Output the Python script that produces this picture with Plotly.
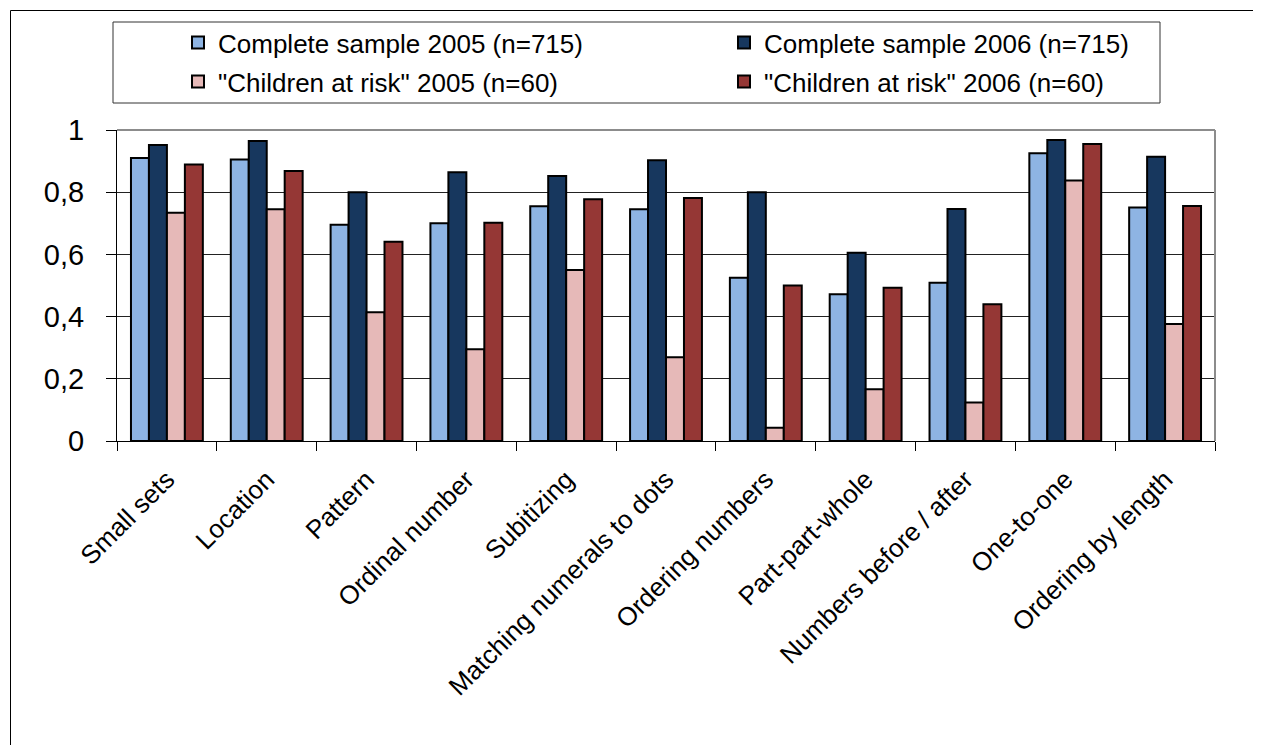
import plotly.graph_objects as go

categories = ["Small sets", "Location", "Pattern", "Ordinal number", "Subitizing",
              "Matching numerals to dots", "Ordering numbers", "Part-part-whole",
              "Numbers before / after", "One-to-one", "Ordering by length"]

series_names = ["Complete sample 2005 (n=715)", "Complete sample 2006 (n=715)",
                "\"Children at risk\" 2005 (n=60)", "\"Children at risk\" 2006 (n=60)"]

complete_2005 = [0.91, 0.905, 0.695, 0.70, 0.755, 0.745, 0.525, 0.472, 0.509, 0.925, 0.751]
complete_2006 = [0.952, 0.965, 0.80, 0.864, 0.852, 0.903, 0.80, 0.605, 0.746, 0.968, 0.914]
risk_2005 = [0.734, 0.745, 0.414, 0.295, 0.55, 0.269, 0.043, 0.166, 0.124, 0.838, 0.376]
risk_2006 = [0.889, 0.868, 0.641, 0.702, 0.777, 0.781, 0.50, 0.493, 0.44, 0.955, 0.756]

colors = ["#8EB4E3", "#17375E", "#E6B9B8", "#953735"]
values = [complete_2005, complete_2006, risk_2005, risk_2006]
legend_ids = ["legend", "legend2", "legend3", "legend4"]

OFF = 8  # page body margin
W, H = 1261 - 2 * OFF, 753 - 2 * OFF
# plot area bounds in screen pixels
SL, SR, ST, SB = 117, 1215, 130, 441
L, R, T, B = SL - OFF, SR - OFF, ST - OFF, SB - OFF

fig = go.Figure()
for name, vals, col, lg in zip(series_names, values, colors, legend_ids):
    fig.add_trace(go.Bar(name=name, x=categories, y=vals, legend=lg,
                         marker=dict(color=col, line=dict(color="black", width=2))))

def px_x(sx):
    return (sx - OFF - L) / (R - L)

def px_y(sy):
    return (B - (sy - OFF)) / (B - T)

font = "Liberation Sans, Arial, sans-serif"

def leg(sx, sy):
    return dict(orientation="v", x=px_x(sx), y=px_y(sy), xanchor="left", yanchor="top",
                itemwidth=30, font=dict(size=26, family=font, color="black"),
                bgcolor="rgba(0,0,0,0)", borderwidth=0)

fig.update_layout(
    width=W, height=H,
    margin=dict(l=L, r=W - R, t=T, b=H - B, autoexpand=False),
    paper_bgcolor="white", plot_bgcolor="white",
    separators=",.",
    barmode="group", bargap=0.28, bargroupgap=0,
    font=dict(family=font, size=24, color="black"),
    showlegend=True,
    legend=leg(178, 19),
    legend2=leg(724, 19),
    legend3=leg(178, 58),
    legend4=leg(724, 58),
    xaxis=dict(type="category", tickson="boundaries", ticks="outside", ticklen=9,
               tickcolor="black", tickwidth=1, showline=True, linecolor="black",
               linewidth=1, tickangle=-45, tickfont=dict(size=26, family=font),
               ticklabelstandoff=12, showgrid=False),
    yaxis=dict(range=[0, 1], dtick=0.2, ticks="outside", ticklen=10, tickcolor="black",
               showline=True, linecolor="black", linewidth=1, showgrid=True,
               gridcolor="#222222", gridwidth=1, tickfont=dict(size=29, family=font),
               ticklabelstandoff=16, zeroline=False),
    shapes=[
        # plot area border (top and right)
        dict(type="line", xref="paper", yref="paper", x0=0, x1=1, y0=1, y1=1,
             line=dict(color="#8C8C8C", width=2)),
        dict(type="line", xref="paper", yref="paper", x0=1, x1=1, y0=0, y1=1,
             line=dict(color="#8C8C8C", width=2)),
        # legend box
        dict(type="rect", xref="paper", yref="paper", x0=px_x(113), x1=px_x(1160),
             y0=px_y(103), y1=px_y(22), line=dict(color="#333333", width=1)),
        # outer chart border
        dict(type="line", xref="paper", yref="paper", x0=px_x(10.5), x1=px_x(1300),
             y0=px_y(10.5), y1=px_y(10.5), line=dict(color="black", width=1)),
        dict(type="line", xref="paper", yref="paper", x0=px_x(10.5), x1=px_x(10.5),
             y0=px_y(10.5), y1=px_y(800), line=dict(color="black", width=1)),
    ],
)

fig.write_html("out.html")
